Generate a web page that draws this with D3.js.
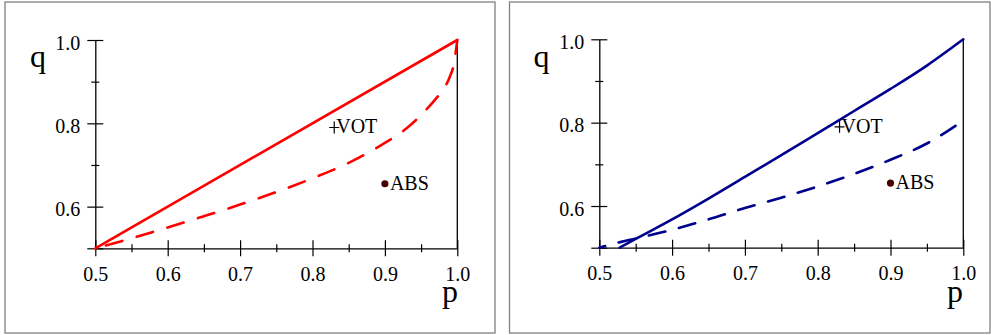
<!DOCTYPE html>
<html>
<head>
<meta charset="utf-8">
<script src="https://cdn.jsdelivr.net/npm/d3@7"></script>
<style>
  html, body { margin: 0; padding: 0; background: #fff; }
  svg { display: block; }
</style>
</head>
<body>
<svg id="chart" width="991" height="335"></svg>
<script>
// ---- data ----
const P_TICKS = [0.5, 0.6, 0.7, 0.8, 0.9, 1.0];
const P_MINOR = [0.55, 0.65, 0.75, 0.85, 0.95];
const Q_TICKS = [0.5, 0.6, 0.8, 1.0];
const Q_MINOR = [0.7, 0.9];

const leftSolidP  = [0.5, 1.0];
const leftSolidQ  = [0.5, 1.0];
const leftDashP   = [0.5, 0.55, 0.6, 0.65, 0.7, 0.75, 0.8, 0.85, 0.9, 0.93, 0.95, 0.97, 0.98, 0.99, 0.995, 1.0];
const leftDashQ   = [0.5, 0.524, 0.55, 0.577, 0.605, 0.635, 0.668, 0.705, 0.753, 0.788, 0.82, 0.858, 0.88, 0.913, 0.94, 1.0];

const rightSolidP = [0.528, 0.55, 0.6, 0.65, 0.7, 0.75, 0.8, 0.85, 0.9, 0.95, 1.0];
const rightSolidQ = [0.5, 0.521, 0.568, 0.618, 0.67, 0.722, 0.775, 0.828, 0.881, 0.937, 1.0];
const rightDashP  = [0.5, 0.53, 0.55, 0.6, 0.65, 0.7, 0.75, 0.8, 0.85, 0.9, 0.95, 1.0];
const rightDashQ  = [0.5, 0.514, 0.522, 0.543, 0.568, 0.595, 0.62, 0.647, 0.677, 0.711, 0.75, 0.805];

const boundaryP = [1.0, 1.0];
const boundaryQ = [0.5, 1.0];

const VOT = { label: "VOT", p: 0.83, q: 0.79 };
const ABS = { label: "ABS", p: 0.9, q: 0.655 };

// ---- drawing ----
const FONT = "'Liberation Serif', 'Times New Roman', serif";
const svg = d3.select("#chart");

const panels = [
  { frame: [5, 2, 490, 331], xr: [95.3, 457.3], yr: [248.3, 40], color: "#ff0000",
    solid: [leftSolidP, leftSolidQ], dash: [leftDashP, leftDashQ], dashArray: "17,15", dashOffset: 21,
    qPos: [30, 67], pPos: [442, 302] },
  { frame: [509.5, 2, 480.5, 331], xr: [599.3, 963.3], yr: [247.7, 39.3], color: "#00008f",
    solid: [rightSolidP, rightSolidQ], dash: [rightDashP, rightDashQ], dashArray: "17,14", dashOffset: 11,
    qPos: [533.5, 67], pPos: [947, 302] }
];

function zip(ps, qs) { return ps.map((p, i) => [p, qs[i]]); }

panels.forEach(cfg => {
  const g = svg.append("g");
  const x = d3.scaleLinear().domain([0.5, 1.0]).range(cfg.xr);
  const y = d3.scaleLinear().domain([0.5, 1.0]).range(cfg.yr);

  // frame
  g.append("rect")
    .attr("x", cfg.frame[0]).attr("y", cfg.frame[1])
    .attr("width", cfg.frame[2]).attr("height", cfg.frame[3])
    .attr("fill", "none").attr("stroke", "#808080").attr("stroke-width", 1.3);

  // x axis major
  const xa = g.append("g").attr("transform", `translate(0,${y(0.5)})`)
    .call(d3.axisBottom(x).tickValues(P_TICKS).tickSize(8).tickSizeOuter(0).tickFormat(d3.format(".1f")));
  xa.selectAll(".tick line").attr("y1", -8).attr("stroke-width", 1.2);
  xa.selectAll(".tick text").attr("y", 32.4).attr("dy", 0);
  // x axis minor
  const xm = g.append("g").attr("transform", `translate(0,${y(0.5)})`)
    .call(d3.axisBottom(x).tickValues(P_MINOR).tickSize(4).tickFormat(""));
  xm.select(".domain").remove();
  xm.selectAll(".tick line").attr("y1", -4).attr("stroke-width", 1.2);

  // y axis major
  const ya = g.append("g").attr("transform", `translate(${x(0.5)},0)`)
    .call(d3.axisLeft(y).tickValues(Q_TICKS).tickSize(8).tickSizeOuter(0)
      .tickFormat(d => d === 0.5 ? "" : d3.format(".1f")(d)));
  ya.selectAll(".tick line").attr("x1", 8).attr("stroke-width", 1.2);
  ya.selectAll(".tick text").attr("x", -15).attr("dy", "0.46em");
  // y axis minor
  const ym = g.append("g").attr("transform", `translate(${x(0.5)},0)`)
    .call(d3.axisLeft(y).tickValues(Q_MINOR).tickSize(4).tickFormat(""));
  ym.select(".domain").remove();
  ym.selectAll(".tick line").attr("x1", 4).attr("stroke-width", 1.2);

  [xa, ya].forEach(a => {
    a.attr("font-family", FONT).attr("font-size", 20);
    a.select(".domain").attr("stroke", "#000").attr("stroke-width", 1.3);
    a.selectAll(".tick text").attr("fill", "#000");
  });

  const line = d3.line().x(d => x(d[0])).y(d => y(d[1])).curve(d3.curveMonotoneX);
  const straight = d3.line().x(d => x(d[0])).y(d => y(d[1]));

  // boundary p = 1
  g.append("path").attr("d", straight(zip(boundaryP, boundaryQ)))
    .attr("stroke", "#000").attr("stroke-width", 1.3).attr("fill", "none");

  // dashed curve
  g.append("path").attr("d", line(zip(cfg.dash[0], cfg.dash[1])))
    .attr("fill", "none").attr("stroke", cfg.color).attr("stroke-width", 2.6)
    .attr("stroke-dasharray", cfg.dashArray).attr("stroke-dashoffset", cfg.dashOffset)
    .attr("stroke-linecap", "round");

  // solid curve
  g.append("path").attr("d", line(zip(cfg.solid[0], cfg.solid[1])))
    .attr("fill", "none").attr("stroke", cfg.color).attr("stroke-width", 2.6)
    .attr("stroke-linecap", "round");

  // VOT marker
  const vx = x(VOT.p), vy = y(VOT.q);
  g.append("path").attr("d", `M${vx - 5},${vy}H${vx + 5}M${vx},${vy - 6}V${vy + 6}`)
    .attr("stroke", "#000").attr("stroke-width", 1.2);
  g.append("text").attr("x", vx + 2).attr("y", vy + 6)
    .attr("font-family", FONT).attr("font-size", 20).attr("fill", "#000").text(VOT.label);

  // ABS marker
  const ax = x(ABS.p), ay = y(ABS.q);
  g.append("circle").attr("cx", ax).attr("cy", ay).attr("r", 3.6).attr("fill", "#4b0000");
  g.append("text").attr("x", ax + 5).attr("y", ay + 6)
    .attr("font-family", FONT).attr("font-size", 20).attr("fill", "#000").text(ABS.label);

  // axis titles
  g.append("text").attr("x", cfg.qPos[0]).attr("y", cfg.qPos[1])
    .attr("font-family", FONT).attr("font-size", 32).attr("fill", "#000").text("q");
  g.append("text").attr("x", cfg.pPos[0]).attr("y", cfg.pPos[1])
    .attr("font-family", FONT).attr("font-size", 32).attr("fill", "#000").text("p");
});
</script>
</body>
</html>
